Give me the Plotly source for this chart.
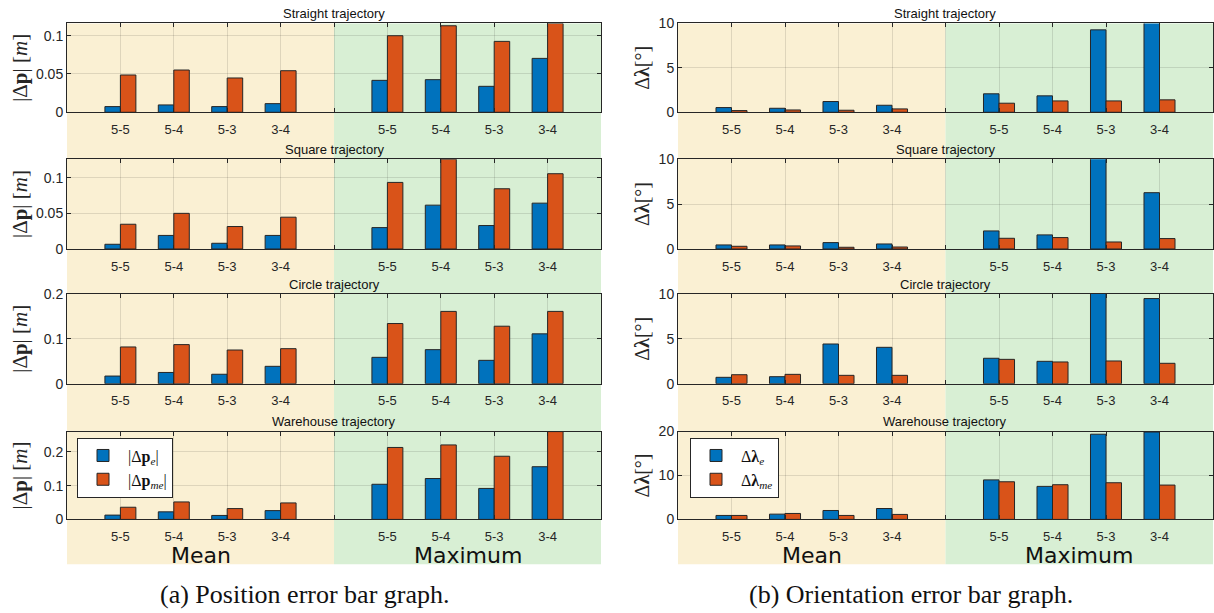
import plotly.graph_objects as go
from plotly.subplots import make_subplots

# ---------------- data ----------------
categories = ["5-5", "5-4", "5-3", "3-4"]
x_mean = [1, 2, 3, 4]
x_max = [6, 7, 8, 9]
tick_vals = [1, 2, 3, 4, 5, 6, 7, 8, 9]
tick_text = ["5-5", "5-4", "5-3", "3-4", " ", "5-5", "5-4", "5-3", "3-4"]

trajectories = ["Straight trajectory", "Square trajectory", "Circle trajectory", "Warehouse trajectory"]

# Position error |Δp| [m]  (mean values then maximum values)
pos_e_mean = [
    [0.0074, 0.0096, 0.0074, 0.0113],
    [0.0066, 0.0190, 0.0080, 0.0190],
    [0.0170, 0.0250, 0.0210, 0.0387],
    [0.0127, 0.0224, 0.0117, 0.0260],
]
pos_me_mean = [
    [0.0487, 0.0552, 0.0448, 0.0543],
    [0.0347, 0.0500, 0.0315, 0.0446],
    [0.0818, 0.0870, 0.0750, 0.0780],
    [0.0360, 0.0517, 0.0320, 0.0488],
]
pos_e_max = [
    [0.0417, 0.0426, 0.0339, 0.0704],
    [0.0300, 0.0615, 0.0329, 0.0643],
    [0.0587, 0.0758, 0.0520, 0.1110],
    [0.1040, 0.1210, 0.0917, 0.1560],
]
pos_me_max = [
    [0.1000, 0.1130, 0.0926, 0.1160],
    [0.0934, 0.1260, 0.0845, 0.1056],
    [0.1340, 0.1610, 0.1280, 0.1610],
    [0.2130, 0.2205, 0.1870, 0.2600],
]

# Orientation error Δλ [deg]
ori_e_mean = [
    [0.53, 0.45, 1.21, 0.79],
    [0.45, 0.45, 0.71, 0.56],
    [0.71, 0.78, 4.42, 4.05],
    [0.90, 1.20, 2.03, 2.48],
]
ori_me_mean = [
    [0.19, 0.26, 0.23, 0.38],
    [0.30, 0.34, 0.19, 0.22],
    [1.00, 1.04, 0.93, 0.93],
    [0.90, 1.35, 0.90, 1.13],
]
ori_e_max = [
    [2.08, 1.85, 9.28, 10.2],
    [2.01, 1.57, 10.2, 6.27],
    [2.83, 2.49, 10.2, 9.48],
    [9.00, 7.52, 19.4, 19.9],
]
ori_me_max = [
    [1.02, 1.28, 1.28, 1.40],
    [1.19, 1.27, 0.78, 1.16],
    [2.71, 2.42, 2.53, 2.27],
    [8.57, 7.90, 8.35, 7.82],
]

pos_yranges = [0.116, 0.126, 0.2, 0.26]
pos_yticks = [[0, 0.05, 0.1], [0, 0.05, 0.1], [0, 0.1, 0.2], [0, 0.1, 0.2]]
pos_yticktext = [["0", "0.05", "0.1"], ["0", "0.05", "0.1"], ["0", "0.1", "0.2"], ["0", "0.1", "0.2"]]
ori_yranges = [10, 10, 10, 20]
ori_yticks = [[0, 5, 10], [0, 5, 10], [0, 5, 10], [0, 10, 20]]
ori_yticktext = [["0", "5", "10"], ["0", "5", "10"], ["0", "5", "10"], ["0", "10", "20"]]

pos_names = ["|Δ<b>p</b><sub><i>e</i></sub>|", "|Δ<b>p</b><sub><i>me</i></sub>|"]
ori_names = ["Δ<b>λ</b><sub><i>e</i></sub>", "Δ<b>λ</b><sub><i>me</i></sub>"]

# ---------------- style ----------------
BLUE = "#0072BD"
ORANGE = "#D95319"
YELLOW = "#FAF0D3"
GREEN = "#D8EFD4"
DARK = "#262626"
W, H = 1214, 613

# target pixel positions (picture coordinates)
col_px = [(67, 601), (678, 1213)]
row_px = [(22, 111), (158, 248), (293, 383), (431, 519)]
title_y_px = [12, 148, 284, 421]

# the page is photographed with a small vertical offset / squeeze; compensate
Y_SCALE, Y_OFF = 0.976, 6.5


def px(xp):
    return xp / W


def py(yp):
    return 1 - ((yp - Y_OFF) / Y_SCALE) / H


fig = make_subplots(rows=4, cols=2, horizontal_spacing=0.05, vertical_spacing=0.05)

for r in range(4):
    for c in range(2):
        if c == 0:
            e_vals = pos_e_mean[r] + pos_e_max[r]
            me_vals = pos_me_mean[r] + pos_me_max[r]
            names = pos_names
            leg = "legend"
        else:
            e_vals = ori_e_mean[r] + ori_e_max[r]
            me_vals = ori_me_mean[r] + ori_me_max[r]
            names = ori_names
            leg = "legend2"
        xs = x_mean + x_max
        show = (r == 3)
        fig.add_trace(go.Bar(x=xs, y=e_vals, name=names[0], marker=dict(color=BLUE, line=dict(color=DARK, width=1)),
                             showlegend=show, legend=leg), row=r + 1, col=c + 1)
        fig.add_trace(go.Bar(x=xs, y=me_vals, name=names[1], marker=dict(color=ORANGE, line=dict(color=DARK, width=1)),
                             showlegend=show, legend=leg), row=r + 1, col=c + 1)

        idx = r * 2 + c + 1
        xa = "xaxis" if idx == 1 else f"xaxis{idx}"
        ya = "yaxis" if idx == 1 else f"yaxis{idx}"
        if c == 0:
            yr, yt, ytt = pos_yranges[r], pos_yticks[r], pos_yticktext[r]
        else:
            yr, yt, ytt = ori_yranges[r], ori_yticks[r], ori_yticktext[r]
        fig.layout[xa].update(
            domain=[px(col_px[c][0]), px(col_px[c][1])], range=[0, 10],
            tickmode="array", tickvals=tick_vals, ticktext=tick_text,
            ticks="inside", ticklen=4, tickcolor=DARK, showline=True, linecolor=DARK, linewidth=1,
            mirror="ticks", showgrid=True, gridcolor="rgba(0,0,0,0.11)", gridwidth=1, zeroline=False,
            tickfont=dict(family="Liberation Sans, Arial", size=13, color=DARK), ticklabelstandoff=5,
            fixedrange=True,
        )
        fig.layout[ya].update(
            domain=[py(row_px[r][1]), py(row_px[r][0])], range=[0, yr],
            tickmode="array", tickvals=yt, ticktext=ytt,
            ticks="inside", ticklen=4, tickcolor=DARK, showline=True, linecolor=DARK, linewidth=1,
            mirror="ticks", showgrid=True, gridcolor="rgba(0,0,0,0.11)", gridwidth=1, zeroline=False,
            tickfont=dict(family="Liberation Sans, Arial", size=14, color=DARK),
            fixedrange=True,
        )

        # title
        fig.add_annotation(x=px((col_px[c][0] + col_px[c][1]) / 2), y=py(title_y_px[r]), xref="paper", yref="paper",
                           text=trajectories[r], showarrow=False, xanchor="center", yanchor="middle",
                           font=dict(family="Liberation Sans, Arial", size=13, color="#111111"))
        # y label
        ymid = py((row_px[r][0] + row_px[r][1]) / 2)
        if c == 0:
            fig.add_annotation(x=px(20), y=ymid, xref="paper", yref="paper",
                               text="|Δ<b>p</b>| [<i>m</i>]", textangle=-90, showarrow=False,
                               xanchor="center", yanchor="middle",
                               font=dict(family="Liberation Serif, Times New Roman", size=21, color=DARK))
        else:
            fig.add_annotation(x=px(642), y=ymid, xref="paper", yref="paper",
                               text="Δ<b>λ</b>[°]", textangle=-90, showarrow=False,
                               xanchor="center", yanchor="middle",
                               font=dict(family="Liberation Serif, Times New Roman", size=20, color=DARK))

# background regions (mean / maximum)
for c in range(2):
    xref = "x" if c == 0 else "x2"
    fig.add_shape(type="rect", xref=xref, yref="paper", x0=0, x1=5, y0=py(564), y1=py(22),
                  fillcolor=YELLOW, line=dict(width=0), layer="below")
    fig.add_shape(type="rect", xref=xref, yref="paper", x0=5, x1=10, y0=py(564), y1=py(22),
                  fillcolor=GREEN, line=dict(width=0), layer="below")
    x0p, x1p = col_px[c]
    span = x1p - x0p
    fig.add_annotation(x=px(x0p + span * 0.25), y=py(555), xref="paper", yref="paper", text="Mean",
                       showarrow=False, xanchor="center", yanchor="middle",
                       font=dict(family="DejaVu Sans", size=22, color="#111111"))
    fig.add_annotation(x=px(x0p + span * 0.75), y=py(555), xref="paper", yref="paper", text="Maximum",
                       showarrow=False, xanchor="center", yanchor="middle",
                       font=dict(family="DejaVu Sans", size=22, color="#111111"))

# captions
fig.add_annotation(x=px(305), y=py(594), xref="paper", yref="paper", text="(a) Position error bar graph.",
                   showarrow=False, xanchor="center", yanchor="middle",
                   font=dict(family="Liberation Serif, Times New Roman", size=26, color="#111111"))
fig.add_annotation(x=px(911), y=py(594), xref="paper", yref="paper", text="(b) Orientation error bar graph.",
                   showarrow=False, xanchor="center", yanchor="middle",
                   font=dict(family="Liberation Serif, Times New Roman", size=26, color="#111111"))

legend_style = dict(bgcolor="white", bordercolor=DARK, borderwidth=1, xanchor="left", yanchor="top",
                    font=dict(family="Liberation Serif, Times New Roman", size=16, color="#111111"),
                    tracegroupgap=0, itemwidth=40)
fig.update_layout(
    width=W, height=H,
    margin=dict(l=0, r=0, t=0, b=0),
    barmode="group", bargap=0.42, bargroupgap=0.0,
    plot_bgcolor="rgba(0,0,0,0)", paper_bgcolor="white",
    legend=dict(x=px(77), y=py(437), **legend_style),
    legend2=dict(x=px(690), y=py(437), **legend_style),
)

post = (
    "document.documentElement.style.margin='0';"
    "document.documentElement.style.padding='0';"
    "document.documentElement.style.overflow='hidden';"
    "document.body.style.margin='0';"
    "document.body.style.padding='0';"
    "document.body.style.overflow='hidden';"
    "document.body.style.height='613px';"
)
fig.write_html("out.html", post_script=post, config={"displayModeBar": False})
